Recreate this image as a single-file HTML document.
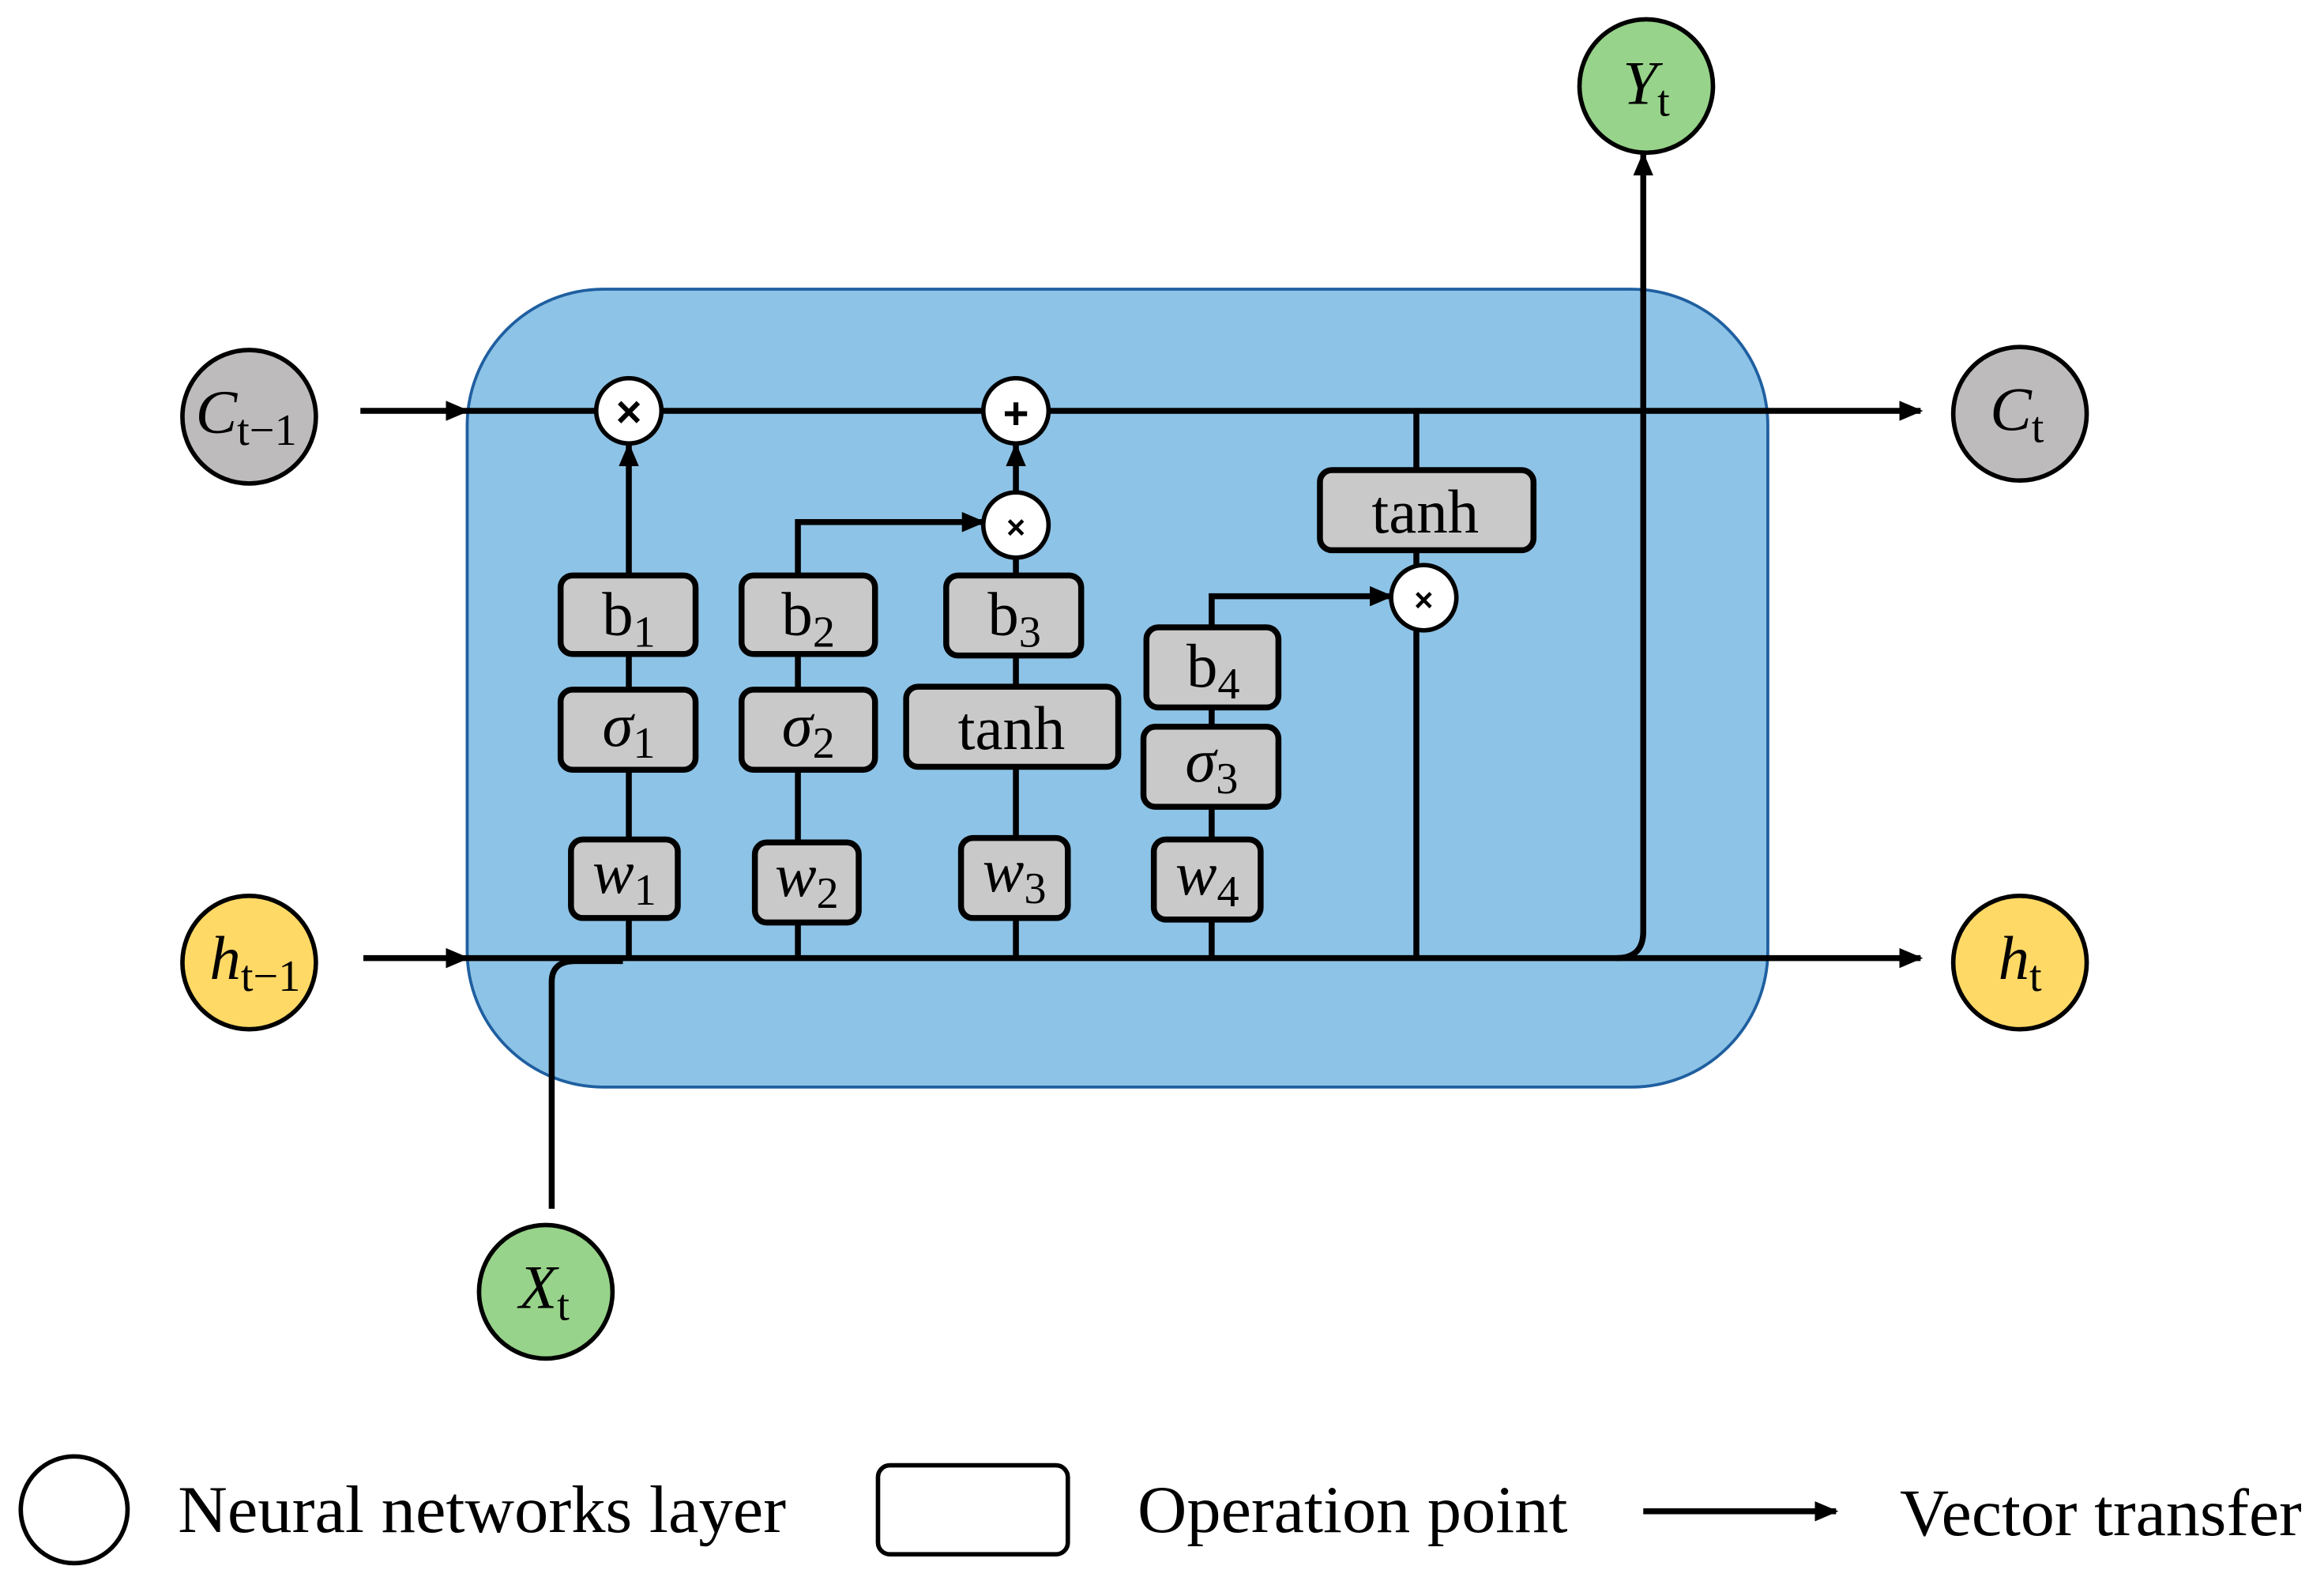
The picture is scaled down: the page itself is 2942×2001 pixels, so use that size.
<!DOCTYPE html>
<html><head><meta charset="utf-8"><style>html,body{margin:0;padding:0;background:#fff}svg{display:block}</style></head>
<body>
<svg width="2942" height="2001" viewBox="0 0 1567 1066" preserveAspectRatio="none" xmlns="http://www.w3.org/2000/svg" font-family="Liberation Serif, serif">
<defs>
<marker id="a" markerWidth="4" markerHeight="3.4" refX="3.6" refY="1.7" orient="auto" markerUnits="strokeWidth"><path d="M0,0 L4,1.7 L0,3.4 z" fill="#000"/></marker>
</defs>
<rect x="315" y="195" width="877" height="538" rx="92" fill="#8DC3E6" stroke="#1F5FA0" stroke-width="2"/>
<g stroke="#000" stroke-width="4" fill="none">
<line x1="243" y1="277" x2="315" y2="277" marker-end="url(#a)"/>
<line x1="315" y1="277" x2="1295" y2="277" marker-end="url(#a)"/>
<line x1="245" y1="646" x2="315" y2="646" marker-end="url(#a)"/>
<line x1="315" y1="646" x2="1295" y2="646" marker-end="url(#a)"/>
<line x1="424" y1="646" x2="424" y2="300" marker-end="url(#a)"/>
<polyline points="538,646 538,352 663,352" marker-end="url(#a)"/>
<line x1="685" y1="646" x2="685" y2="376"/>
<line x1="685" y1="332" x2="685" y2="300" marker-end="url(#a)"/>
<polyline points="817,646 817,402 938,402" marker-end="url(#a)"/>
<line x1="955" y1="646" x2="955" y2="425"/>
<line x1="955" y1="381" x2="955" y2="277"/>
<path d="M1090,646 Q1108,646 1108,628 L1108,104" marker-end="url(#a)"/>
<path d="M372,815 L372,662 Q372,648 388,648 L420,648"/>
<line x1="1108" y1="1019" x2="1238" y2="1019" marker-end="url(#a)"/>
</g>
<g stroke="#000" stroke-width="4" fill="#C9C9C9">
<rect x="378" y="388" width="91" height="53" rx="8"/>
<rect x="378" y="465" width="91" height="54" rx="8"/>
<rect x="385" y="566" width="72" height="53" rx="8"/>
<rect x="500" y="388" width="90" height="53" rx="8"/>
<rect x="500" y="465" width="90" height="54" rx="8"/>
<rect x="509" y="568" width="70" height="54" rx="8"/>
<rect x="638" y="388" width="91" height="54" rx="8"/>
<rect x="611" y="463" width="143" height="54" rx="8"/>
<rect x="648" y="565" width="72" height="54" rx="8"/>
<rect x="773" y="423" width="89" height="54" rx="8"/>
<rect x="771" y="490" width="91" height="54" rx="8"/>
<rect x="778" y="566" width="72" height="54" rx="8"/>
<rect x="890" y="317" width="144" height="54" rx="8"/>
</g>
<g stroke="#000" stroke-width="3">
<circle cx="168" cy="281" r="45" fill="#BDBBBB"/>
<circle cx="1362" cy="279" r="45" fill="#BDBBBB"/>
<circle cx="168" cy="649" r="45" fill="#FFD966"/>
<circle cx="1362" cy="649" r="45" fill="#FFD966"/>
<circle cx="368" cy="871" r="45" fill="#97D38A"/>
<circle cx="1110" cy="58" r="45" fill="#97D38A"/>
<circle cx="424" cy="277" r="22" fill="#fff"/>
<circle cx="685" cy="277" r="22" fill="#fff"/>
<circle cx="685" cy="354" r="22" fill="#fff"/>
<circle cx="960" cy="403" r="22" fill="#fff"/>
<circle cx="50" cy="1018" r="36" fill="#fff"/>
<rect x="592" y="988" width="128" height="60" rx="8" fill="#fff"/>
</g>
<g font-family="Liberation Sans, sans-serif" text-anchor="middle" font-size="30" font-weight="bold">
<text x="424" y="288">×</text><text x="685" y="289">+</text>
<text x="685" y="363" font-size="22">×</text><text x="960" y="412" font-size="22">×</text>
</g>
<g font-size="42" text-anchor="middle" fill="#000">
<text x="424" y="428">b<tspan font-size="30" dy="8">1</tspan></text>
<text x="545" y="428">b<tspan font-size="30" dy="8">2</tspan></text>
<text x="684" y="428">b<tspan font-size="30" dy="8">3</tspan></text>
<text x="818" y="463">b<tspan font-size="30" dy="8">4</tspan></text>
<text x="424" y="503"><tspan font-style="italic">σ</tspan><tspan font-size="30" dy="8">1</tspan></text>
<text x="545" y="503"><tspan font-style="italic">σ</tspan><tspan font-size="30" dy="8">2</tspan></text>
<text x="817" y="527"><tspan font-style="italic">σ</tspan><tspan font-size="30" dy="8">3</tspan></text>
<text x="682" y="505">tanh</text>
<text x="961" y="359">tanh</text>
<text x="421" y="602"><tspan font-style="italic">w</tspan><tspan font-size="30" dy="8">1</tspan></text>
<text x="544" y="604"><tspan font-style="italic">w</tspan><tspan font-size="30" dy="8">2</tspan></text>
<text x="684" y="601"><tspan font-style="italic">w</tspan><tspan font-size="30" dy="8">3</tspan></text>
<text x="814" y="603"><tspan font-style="italic">w</tspan><tspan font-size="30" dy="8">4</tspan></text>
<text x="166" y="292"><tspan font-style="italic">C</tspan><tspan font-size="30" dy="8">t−1</tspan></text>
<text x="1360" y="290"><tspan font-style="italic">C</tspan><tspan font-size="30" dy="8">t</tspan></text>
<text x="172" y="660"><tspan font-style="italic">h</tspan><tspan font-size="30" dy="8">t−1</tspan></text>
<text x="1362" y="660"><tspan font-style="italic">h</tspan><tspan font-size="30" dy="8">t</tspan></text>
<text x="367" y="882"><tspan font-style="italic">X</tspan><tspan font-size="30" dy="8">t</tspan></text>
<text x="1110" y="70"><tspan font-style="italic">Y</tspan><tspan font-size="30" dy="8">t</tspan></text>
</g>
<g font-size="45" fill="#000">
<text x="120" y="1033" textLength="410" lengthAdjust="spacingAndGlyphs">Neural networks layer</text>
<text x="767" y="1033" textLength="290" lengthAdjust="spacingAndGlyphs">Operation point</text>
<text x="1281" y="1035" textLength="271" lengthAdjust="spacingAndGlyphs">Vector transfer</text>
</g>
</svg>
</body></html>
